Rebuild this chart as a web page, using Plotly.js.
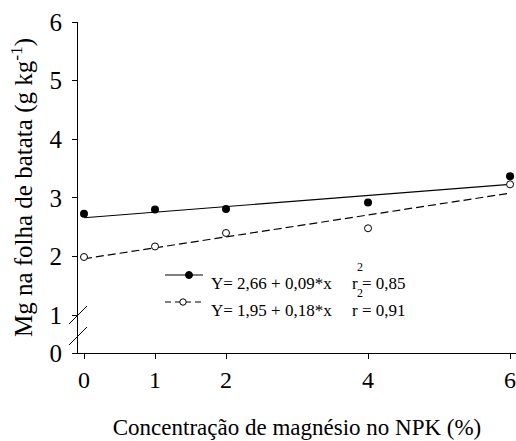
<!DOCTYPE html>
<html>
<head>
<meta charset="utf-8">
<script src="https://cdn.plot.ly/plotly-3.0.1.min.js"></script>
<style>
html,body{margin:0;padding:0;background:#fff;}
.modebar-container{display:none !important;}
</style>
</head>
<body>
<div id="chart" style="width:516px;height:441px"></div>
<script>
// Data
var doses = [0, 1, 2, 4, 6];
var mgFilled = [2.73, 2.80, 2.81, 2.92, 3.37];   // Y= 2,66 + 0,09*x
var mgOpen = [1.99, 2.17, 2.40, 2.48, 3.23];     // Y= 1,95 + 0,18*x
var fitX = [0, 6];
var fitFilled = [2.66, 3.23];
var fitOpen = [1.96, 3.08];
var xTickVals = [0, 1, 2, 4, 6];
var xTickText = ['0', '1', '2', '4', '6'];
var yTickVals = [0.352, 1, 2, 3, 4, 5, 6];
var yTickText = ['0', '1', '2', '3', '4', '5', '6'];
var eq1 = 'Y= 2,66 + 0,09*x';
var eq2 = 'Y= 1,95 + 0,18*x';
var r1 = 'r = 0,85';
var r2 = 'r = 0,91';
var xTitle = 'Concentra\u00e7\u00e3o de magn\u00e9sio no NPK (%)';
var yTitle = 'Mg na folha de batata (g kg<sup>-1</sup>)';

var FONT = 'Liberation Serif';
var W = 516, H = 441, L = 78, R = 0, T = 22, B = 88;
function px(x) { return (x - L) / (W - L - R); }
function py(y) { return (H - B - y) / (H - T - B); }

var traces = [
  {x: fitX, y: fitFilled, mode: 'lines', line: {color: '#000', width: 1.2}, showlegend: false, hoverinfo: 'skip'},
  {x: fitX, y: fitOpen, mode: 'lines', line: {color: '#000', width: 1.2, dash: '8px,4px'}, showlegend: false, hoverinfo: 'skip'},
  {x: doses, y: mgFilled, mode: 'markers', marker: {symbol: 'circle', size: 8, color: '#000'}, showlegend: false},
  {x: doses, y: mgOpen, mode: 'markers', marker: {symbol: 'circle', size: 7, color: '#fff', line: {color: '#000', width: 1}}, showlegend: false}
];

var shapes = [
  // axis break marks
  {type: 'line', xref: 'paper', yref: 'paper', x0: px(69), y0: py(324), x1: px(87), y1: py(306), line: {color: '#000', width: 1}},
  {type: 'line', xref: 'paper', yref: 'paper', x0: px(69), y0: py(345), x1: px(87), y1: py(327), line: {color: '#000', width: 1}},
  // legend samples
  {type: 'line', xref: 'paper', yref: 'paper', x0: px(165), y0: py(275), x1: px(203), y1: py(275), line: {color: '#000', width: 1.2}},
  {type: 'circle', xref: 'paper', yref: 'paper', xsizemode: 'pixel', ysizemode: 'pixel', xanchor: px(189), yanchor: py(275), x0: -3.5, x1: 3.5, y0: -3.5, y1: 3.5, fillcolor: '#000', line: {color: '#000', width: 1}},
  {type: 'line', xref: 'paper', yref: 'paper', x0: px(165), y0: py(302), x1: px(205), y1: py(302), line: {color: '#000', width: 1.2, dash: '6px,4px'}},
  {type: 'circle', xref: 'paper', yref: 'paper', xsizemode: 'pixel', ysizemode: 'pixel', xanchor: px(183), yanchor: py(302), x0: -3.2, x1: 3.2, y0: -3.2, y1: 3.2, fillcolor: '#fff', line: {color: '#000', width: 1}}
];

function ann(text, x, y, xanchor, size) {
  return {text: text, xref: 'paper', yref: 'paper', x: px(x), y: py(y), xanchor: xanchor, yanchor: 'middle', showarrow: false, font: {family: FONT, size: size}};
}
var annotations = [
  ann(eq1, 209, 283, 'left', 17),
  ann(r1, 350, 283, 'left', 17),
  ann('2', 360, 267, 'center', 12),
  ann(eq2, 209, 310, 'left', 17),
  ann(r2, 350, 310, 'left', 17),
  ann('2', 360, 293, 'center', 12)
];

var layout = {
  width: W, height: H,
  margin: {l: L, r: R, t: T, b: B},
  font: {family: FONT, color: '#000'},
  showlegend: false,
  xaxis: {
    range: [-0.0845, 6.084], tickvals: xTickVals, ticktext: xTickText,
    showgrid: false, zeroline: false, showline: true, linecolor: '#000', linewidth: 1.2,
    ticks: 'outside', ticklen: 5, tickwidth: 1, tickcolor: '#000', ticklabeloverflow: 'allow',
    tickfont: {family: FONT, size: 24},
    title: {text: xTitle, font: {family: FONT, size: 23}, standoff: 26}
  },
  yaxis: {
    range: [0.352, 6], tickvals: yTickVals, ticktext: yTickText,
    showgrid: false, zeroline: false, showline: true, linecolor: '#000', linewidth: 1.2,
    ticks: 'outside', ticklen: 5, tickwidth: 1, tickcolor: '#000', ticklabelstandoff: 5,
    tickfont: {family: FONT, size: 25},
    title: {text: yTitle, font: {family: FONT, size: 25}, standoff: 9}
  },
  shapes: shapes,
  annotations: annotations
};

Plotly.newPlot('chart', traces, layout);
</script>
</body>
</html>
